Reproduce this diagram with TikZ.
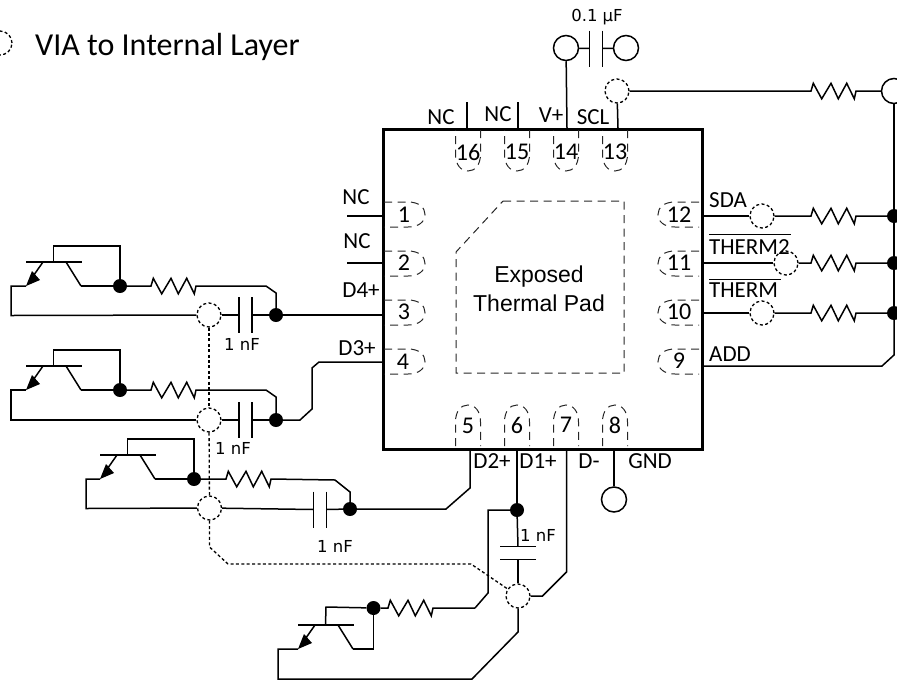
\documentclass[tikz,border=0pt]{standalone}
\usepackage{fontspec}
\newfontfamily\carl{Carlito}
\newfontfamily\arialf{Liberation Sans}
\newfontfamily\dejav{DejaVu Sans}
\begin{document}
\begin{tikzpicture}[x=1pt,y=-1pt,
  wire/.style={line width=1.5pt,line join=miter},
  chipline/.style={line width=2.6pt},
  padline/.style={line width=1pt,black!85,dash pattern=on 8pt off 5.5pt},
  viaring/.style={circle,draw,line width=1.3pt,dash pattern=on 3pt off 2.4pt,minimum size=24pt,inner sep=0pt},
  dotty/.style={line width=1.3pt,dash pattern=on 3pt off 2.4pt},
  jn/.style={circle,fill=black,minimum size=14pt,inner sep=0pt},
  term/.style={circle,draw,line width=1.5pt,minimum size=25pt,inner sep=0pt},
  lab/.style={font=\carl\fontsize{23}{25}\selectfont,inner sep=0pt},
  num/.style={font=\carl\fontsize{24}{26}\selectfont,inner sep=0pt},
  val/.style={font=\dejav\fontsize{16.5}{18}\selectfont,inner sep=0pt},
  resz/.style={insert path={-- ++(2.3,-7.7) -- ++(8.4,15.5) -- ++(9.3,-15.5) -- ++(7.3,15.5) -- ++(8.4,-15.5) -- ++(7.6,15.5) -- ++(1.7,-7.8)}},
  padl/.pic={\draw[padline] (0,-12.5) -- (24,-12.5) .. controls (35,-12.5) and (41,-7) .. (41,0) .. controls (41,7) and (35,12.5) .. (24,12.5) -- (0,12.5);},
  capv/.pic={\coordinate (-l) at (-6.5,0);\coordinate (-r) at (6.5,0);
    \draw[wire] (-6.5,-18) -- (-6.5,18); \draw[wire] (6.5,-18) -- (6.5,18);},
  bjt/.pic={\coordinate (-b) at (27.5,0);\coordinate (-c) at (55,24);\coordinate (-e) at (0,24);
    \draw[wire] (0,0) -- (56,0); \draw[wire] (40,0) -- (55,24); \draw[wire] (17,0) -- (3,20);
    \fill (0,24) -- (14,18) -- (6,9) -- cycle;}
]
\clip (0,0) rectangle (897,681);
% chip
\node[draw,chipline,minimum width=319pt,minimum height=320pt,inner sep=0pt,anchor=north west] (chip) at (382,128) {};
% pads
\foreach \y in {214.5,263.5,312.5,361.5}{\pic at (384,\y) {padl};}
\foreach \y in {214.5,263.5,312.5,361.5}{\pic[xscale=-1] at (699,\y) {padl};}
\foreach \x in {468,517,566,615}{\pic[rotate=90] at (\x,446) {padl};}
\foreach \x in {468,517,566,615}{\pic[rotate=-90] at (\x,130) {padl};}
% numbers
\node[num] (n1) at (404,215) {1};
\node[num] (n2) at (404,263) {2};
\node[num] (n3) at (404,312) {3};
\node[num] (n4) at (403,362) {4};
\node[num] (n5) at (468,426) {5};
\node[num] (n6) at (517,425) {6};
\node[num] (n7) at (566,425) {7};
\node[num] (n8) at (615,425) {8};
\node[num] (n9) at (679,361) {9};
\node[num] (n10) at (679,312) {10};
\node[num] (n11) at (679,263) {11};
\node[num] (n12) at (679,215) {12};
\node[num] (n13) at (615,152) {13};
\node[num] (n14) at (566,152) {14};
\node[num] (n15) at (517,152) {15};
\node[num] (n16) at (468,152) {16};
% thermal pad
\coordinate (tp1) at (503,201);\coordinate (tp2) at (624,201);\coordinate (tp3) at (624,373);\coordinate (tp4) at (456,373);\coordinate (tp5) at (456,252);
\draw[padline] (tp1) -- (tp2) -- (tp3) -- (tp4) -- (tp5) -- cycle;
\node[font=\arialf\fontsize{23}{29}\selectfont,align=center,inner sep=0pt] (tpl) at (539,289) {Exposed\\Thermal Pad};
% legend
\node[viaring] (vleg) at (0,43) {};
\node[font=\carl\fontsize{32}{34}\selectfont,anchor=base west,inner sep=0pt] (legt) at (35,55) {VIA to Internal Layer};
% pin coordinates
\coordinate (p1) at (382,216);\coordinate (s1) at (347,216);
\coordinate (p2) at (382,263);\coordinate (s2) at (347,263);
\coordinate (p3) at (382,315);
\coordinate (p4) at (382,362);
\coordinate (p5) at (470,448);
\coordinate (p6) at (517,448);
\coordinate (p7) at (566.5,448);
\coordinate (p8) at (614,448);
\coordinate (p9) at (701,366);
\coordinate (p10) at (701,313);
\coordinate (p11) at (701,263);
\coordinate (p12) at (701,216);
\coordinate (p13) at (618,128);
\coordinate (p14) at (567,128);
\coordinate (p15) at (518,128);\coordinate (s15) at (518,102);
\coordinate (p16) at (467,128);\coordinate (s16) at (467,102);
\draw[wire] (s1) -- (p1);
\draw[wire] (s2) -- (p2);
\draw[wire] (s15) -- (p15);
\draw[wire] (s16) -- (p16);
% pin labels
\node[lab] (lnc1) at (356,197) {NC};
\node[lab] (lnc2) at (357,241) {NC};
\node[lab] (ld4) at (361,290) {D4+};
\node[lab] (ld3) at (357,348) {D3+};
\node[lab] (lnc16) at (441,117) {NC};
\node[lab] (lnc15) at (498,114) {NC};
\node[lab] (lv) at (551,115) {V+};
\node[lab] (lscl) at (593,117) {SCL};
\node[lab] (ld2) at (492,461) {D2+};
\node[lab] (ld1) at (538,461) {D1+};
\node[lab] (ldm) at (589,461) {D-};
\node[lab] (lgnd) at (650,461) {GND};
\node[lab,anchor=base west] (lsda) at (709,207) {SDA};
\node[lab,anchor=base west] (lth2) at (709,254) {\rlap{\raisebox{19.5pt}{\rule{82pt}{1pt}}}THERM2};
\node[lab,anchor=base west] (lth) at (709,297) {\rlap{\raisebox{17.5pt}{\rule{72pt}{1pt}}}THERM};
\node[lab,anchor=base west] (ladd) at (709,361) {ADD};
% V+ and capacitor
\node[term] (tv) at (566,48) {};
\node[term] (tc) at (626,48) {};
\pic (c0) at (596,48.5) {capv};
\node[val] (l0) at (597,17) {0.1 µF};
\draw[wire] (p14) -- (tv);
\draw[wire] (tv) -- (c0-l);
\draw[wire] (c0-r) -- (tc);
% right side
\node[viaring] (v13) at (617,91) {};
\node[viaring] (v12) at (762,216) {};
\node[viaring] (v11) at (786,263) {};
\node[viaring] (v10) at (762,313) {};
\node[term] (tr) at (894,91) {};
\node[jn] (d12) at (894,216) {};
\node[jn] (d11) at (894,263) {};
\node[jn] (d10) at (894,313) {};
\coordinate (r13) at (811,91);\coordinate (r12) at (811,216);\coordinate (r11) at (811,263);\coordinate (r10) at (811,313);
\coordinate (k9a) at (882,366);\coordinate (k9b) at (894,355);
\draw[wire] (p13) -- (v13);
\draw[wire] (v13) -- (r13) [resz] -- (tr);
\draw[wire] (p12) -- (v12);
\draw[wire] (v12) -- (r12) [resz] -- (d12);
\draw[wire] (p11) -- (v11);
\draw[wire] (v11) -- (r11) [resz] -- (d11);
\draw[wire] (p10) -- (v10);
\draw[wire] (v10) -- (r10) [resz] -- (d10);
\draw[wire] (p9) -- (k9a) -- (k9b) -- (d10);
\draw[wire] (d10) -- (d11);
\draw[wire] (d11) -- (d12);
\draw[wire] (d12) -- (tr);
% pin 8
\node[term] (t8) at (614,499.5) {};
\draw[wire] (p8) -- (t8);
% vias left
\node[viaring] (v1) at (209,315) {};
\node[viaring] (v2) at (209,420) {};
\node[viaring] (v3) at (209.5,508) {};
\node[viaring] (v4) at (518,596) {};
% T1
\pic (q1) at (26,262) {bjt};
\node[jn] (d1) at (120,286) {};
\node[jn] (e1) at (276,315) {};
\coordinate (r1) at (151,286);\coordinate (k1a) at (266,286);\coordinate (k1b) at (276,293);
\pic (c1) at (245.5,315) {capv};
\node[val] (l1) at (242,344) {1 nF};
\draw[wire] (q1-b) -- ++(0,-16) -| (d1);
\draw[wire] (q1-c) -- (d1);
\draw[wire] (d1) -- (r1) [resz] -- (k1a) -- (k1b) -- (e1);
\draw[wire] (q1-e) -- ++(-15,0) -- ++(0,29.5) -- (v1);
\draw[wire] (v1) -- (c1-l);
\draw[wire] (c1-r) -- (e1);
\draw[wire] (e1) -- (p3);
% T2
\pic (q2) at (26,366) {bjt};
\node[jn] (d2) at (120,390) {};
\node[jn] (e2) at (276,420) {};
\coordinate (r2) at (151,390);\coordinate (k2a) at (266,390);\coordinate (k2b) at (276,397);
\coordinate (k2c) at (300,420);\coordinate (k2d) at (312,409);\coordinate (k2e) at (312,368);\coordinate (k2f) at (319,362);
\pic (c2) at (245.5,420) {capv};
\node[val] (l2) at (233,448) {1 nF};
\draw[wire] (q2-b) -- ++(0,-16) -| (d2);
\draw[wire] (q2-c) -- (d2);
\draw[wire] (d2) -- (r2) [resz] -- (k2a) -- (k2b) -- (e2);
\draw[wire] (q2-e) -- ++(-15,0) -- ++(0,30) -- (v2);
\draw[wire] (v2) -- (c2-l);
\draw[wire] (c2-r) -- (e2);
\draw[wire] (e2) -- (k2c) -- (k2d) -- (k2e) -- (k2f) -- (p4);
% T3
\pic (q3) at (100,455) {bjt};
\node[jn] (d3) at (194,479) {};
\node[jn] (e3) at (350,509) {};
\coordinate (r3) at (226,479);\coordinate (k3a) at (335,480);\coordinate (k3b) at (350,492);
\coordinate (k3c) at (446,509);\coordinate (k3d) at (470,488);
\pic (c3) at (320,509.5) {capv};
\node[val] (l3) at (335,546) {1 nF};
\draw[wire] (q3-b) -- ++(0,-16) -| (d3);
\draw[wire] (q3-c) -- (d3);
\draw[wire] (d3) -- (r3) [resz] -- (k3a) -- (k3b) -- (e3);
\draw[wire] (q3-e) -- ++(-14,0) -- ++(0,29.5) -- (v3);
\draw[wire] (v3) -- (c3-l);
\draw[wire] (c3-r) -- (e3);
\draw[wire] (e3) -- (k3c) -- (k3d) -- (p5);
% T4
\pic (q4) at (298,625) {bjt};
\node[jn] (d4) at (373.5,608) {};
\node[jn] (e4) at (517,510) {};
\coordinate (r4) at (388,608);\coordinate (k4a) at (475,608);\coordinate (k4b) at (488,593);\coordinate (k4c) at (488,510);
\pic[rotate=-90] (c4) at (518,553) {capv};
\node[val] (l4) at (538,535) {1 nF};
\coordinate (k4d) at (518,632);\coordinate (k4e) at (472,679);\coordinate (k4f) at (278,679);\coordinate (k4g) at (278,649);
\coordinate (k7a) at (566.5,572);\coordinate (k7b) at (542.5,596);
\draw[wire] (p6) -- (e4);
\draw[wire] (e4) -- (c4-l);
\draw[wire] (c4-r) -- (v4);
\draw[wire] (e4) -- (k4c) -- (k4b) -- (k4a);
\draw[wire] (d4) -- (r4) [resz] -- (k4a);
\draw[wire] (q4-b) -- (326,607) -- (d4);
\draw[wire] (d4) |- (q4-c);
\draw[wire] (v4) -- (k4d) -- (k4e) -- (k4f) -- (k4g) -- (q4-e);
\draw[wire] (p7) -- (k7a) -- (k7b) -- (v4);
% dotted ties
\coordinate (t1) at (209.5,547);\coordinate (t2) at (228,564);\coordinate (t3) at (471,564);
\draw[dotty] (v1) -- (v2);
\draw[dotty] (v2) -- (v3);
\draw[dotty] (v3) -- (t1) -- (t2) -- (t3) -- (v4);
\end{tikzpicture}
\end{document}
